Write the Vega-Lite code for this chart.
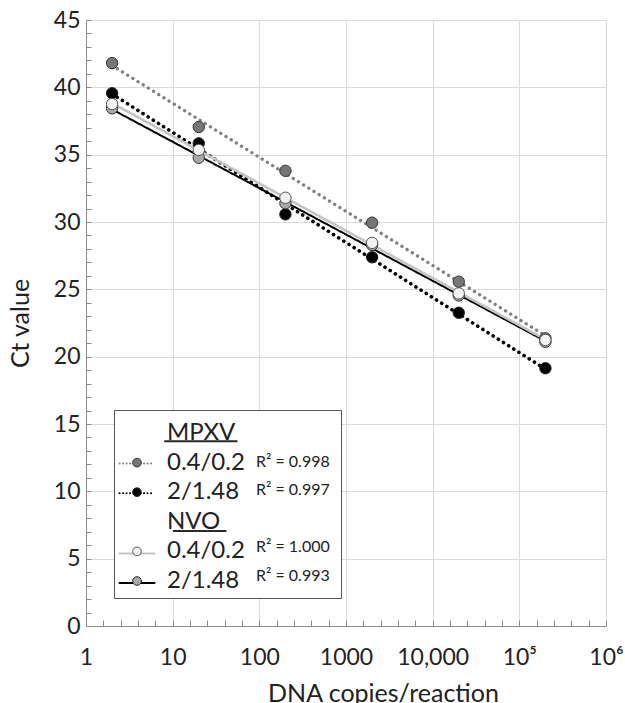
{
  "$schema": "https://vega.github.io/schema/vega-lite/v6.json",
  "width": 520,
  "height": 606,
  "autosize": {"type": "none"},
  "padding": {"left": 86, "top": 20, "right": 19, "bottom": 77},
  "config": {
    "font": "Lato",
    "view": {"stroke": null},
    "axis": {
      "domainColor": "#8c8c8c",
      "tickColor": "#8c8c8c",
      "gridColor": "#dadada",
      "labelColor": "#222222",
      "titleColor": "#222222",
      "labelFont": "Lato",
      "titleFont": "Lato",
      "labelFontSize": 23,
      "titleFontSize": 25,
      "titleFontWeight": "normal"
    }
  },
  "data": {
    "values": [
      {"series": "MPXV 0.4/0.2", "r2": "0.998", "copies": 2, "ct": 41.8},
      {"series": "MPXV 0.4/0.2", "r2": "0.998", "copies": 20, "ct": 37.05},
      {"series": "MPXV 0.4/0.2", "r2": "0.998", "copies": 200, "ct": 33.8},
      {"series": "MPXV 0.4/0.2", "r2": "0.998", "copies": 2000, "ct": 29.95},
      {"series": "MPXV 0.4/0.2", "r2": "0.998", "copies": 20000, "ct": 25.57},
      {"series": "MPXV 0.4/0.2", "r2": "0.998", "copies": 200000, "ct": 21.36},
      {"series": "MPXV 2/1.48", "r2": "0.997", "copies": 2, "ct": 39.56},
      {"series": "MPXV 2/1.48", "r2": "0.997", "copies": 20, "ct": 35.84},
      {"series": "MPXV 2/1.48", "r2": "0.997", "copies": 200, "ct": 30.57},
      {"series": "MPXV 2/1.48", "r2": "0.997", "copies": 2000, "ct": 27.38},
      {"series": "MPXV 2/1.48", "r2": "0.997", "copies": 20000, "ct": 23.26},
      {"series": "MPXV 2/1.48", "r2": "0.997", "copies": 200000, "ct": 19.14},
      {"series": "NVO 2/1.48", "r2": "0.993", "copies": 2, "ct": 38.44},
      {"series": "NVO 2/1.48", "r2": "0.993", "copies": 20, "ct": 34.77},
      {"series": "NVO 2/1.48", "r2": "0.993", "copies": 200, "ct": 31.39},
      {"series": "NVO 2/1.48", "r2": "0.993", "copies": 2000, "ct": 28.3},
      {"series": "NVO 2/1.48", "r2": "0.993", "copies": 20000, "ct": 24.55},
      {"series": "NVO 2/1.48", "r2": "0.993", "copies": 200000, "ct": 21.1},
      {"series": "NVO 0.4/0.2", "r2": "1.000", "copies": 2, "ct": 38.76},
      {"series": "NVO 0.4/0.2", "r2": "1.000", "copies": 20, "ct": 35.35},
      {"series": "NVO 0.4/0.2", "r2": "1.000", "copies": 200, "ct": 31.8},
      {"series": "NVO 0.4/0.2", "r2": "1.000", "copies": 2000, "ct": 28.45},
      {"series": "NVO 0.4/0.2", "r2": "1.000", "copies": 20000, "ct": 24.7},
      {"series": "NVO 0.4/0.2", "r2": "1.000", "copies": 200000, "ct": 21.24}
    ]
  },
  "encoding": {
    "x": {
      "field": "copies",
      "type": "quantitative",
      "scale": {"type": "log", "domain": [1, 1000000], "nice": false},
      "axis": {
        "title": "DNA copies/reaction",
        "values": [1, 1.585, 2.512, 3.981, 6.31, 10, 15.85, 25.12, 39.81, 63.1, 100, 158.5, 251.2, 398.1, 631, 1000, 1585, 2512, 3981, 6310, 10000, 15849, 25119, 39811, 63096, 100000, 158489, 251189, 398107, 630957, 1000000],
        "labelExpr": "datum.value == 1 ? '1' : datum.value == 10 ? '10' : datum.value == 100 ? '100' : datum.value == 1000 ? '1000' : datum.value == 10000 ? '10,000' : datum.value == 100000 ? '10⁵' : datum.value == 1000000 ? '10⁶' : ''",
        "labelOverlap": false,
        "labelFlush": false,
        "labelBound": false,
        "tickSize": -6,
        "labelPadding": 37,
        "labelBaseline": "middle",
        "gridOpacity": {"condition": {"test": "indexof([1,10,100,1000,10000,100000,1000000], datum.value) >= 0", "value": 1}, "value": 0},
        "titleX": 297,
        "titleY": 75,
        "titleBaseline": "alphabetic",
        "titleAlign": "center"
      }
    },
    "y": {
      "field": "ct",
      "type": "quantitative",
      "scale": {"domain": [0, 45], "nice": false, "zero": false},
      "axis": {
        "title": "Ct value",
        "values": [0,1,2,3,4,5,6,7,8,9,10,11,12,13,14,15,16,17,18,19,20,21,22,23,24,25,26,27,28,29,30,31,32,33,34,35,36,37,38,39,40,41,42,43,44,45],
        "labelExpr": "datum.value % 5 == 0 ? '' + datum.value : ''",
        "tickSize": -5,
        "labelPadding": 11,
        "gridOpacity": {"condition": {"test": "datum.value % 5 == 0", "value": 1}, "value": 0},
        "titlePadding": 20
      }
    }
  },
  "layer": [
    {
      "transform": [{"regression": "ct", "on": "copies", "method": "log", "groupby": ["series"]}],
      "mark": {"type": "line", "strokeCap": "round"},
      "encoding": {
        "stroke": {
          "field": "series",
          "type": "nominal",
          "scale": {
            "domain": ["MPXV", "MPXV 0.4/0.2", "MPXV 2/1.48", "NVO", "NVO 0.4/0.2", "NVO 2/1.48"],
            "range": ["#2a2a2a", "#808080", "#000000", "#2a2a2a", "#c4c4c4", "#000000"]
          },
          "legend": {
            "orient": "none",
            "legendX": 28,
            "legendY": 390,
            "title": null,
            "padding": 11,
            "rowPadding": 5.6,
            "symbolType": "M-3,0H3",
            "symbolSize": 136,
            "symbolStrokeWidth": 2,
            "symbolOffset": 0,
            "labelFontSize": 24,
            "labelOffset": 18,
            "labelColor": "transparent",
            "labelExpr": "'\u00a0'",
            "zindex": 2,
            "encode": {
              "symbols": {
                "update": {
                  "strokeDash": {"signal": "indexof(datum.value, 'MPXV ') == 0 ? [0.1, 3.4] : [1, 0]"},
                  "strokeCap": {"value": "round"},
                  "shape": {"signal": "datum.value == 'MPXV' ? 'M4.8,1.4H17.1' : datum.value == 'NVO' ? 'M6.3,1.4H15.2' : 'M-3,0H3'"}
                }
              }
            }
          }
        },
        "strokeDash": {
          "condition": {"test": "indexof(datum.series, 'MPXV') == 0", "value": [0.1, 6]},
          "value": [1, 0]
        },
        "strokeWidth": {
          "condition": [
            {"test": "datum.series == 'MPXV 0.4/0.2'", "value": 3.3},
            {"test": "datum.series == 'MPXV 2/1.48'", "value": 3.6},
            {"test": "datum.series == 'NVO 0.4/0.2'", "value": 2.6}
          ],
          "value": 2
        }
      }
    },
    {
      "mark": {"type": "point", "filled": true, "opacity": 1, "size": 130, "strokeWidth": 1},
      "encoding": {
        "fill": {
          "field": "series",
          "type": "nominal",
          "scale": {
            "domain": ["MPXV", "MPXV 0.4/0.2", "MPXV 2/1.48", "NVO", "NVO 0.4/0.2", "NVO 2/1.48"],
            "range": ["transparent", "#767676", "#000000", "transparent", "#f2f2f2", "#a8a8a8"]
          },
          "legend": {
            "orient": "none",
            "legendX": 28,
            "legendY": 390,
            "title": null,
            "padding": 11,
            "rowPadding": 5.6,
            "symbolType": "circle",
            "symbolSize": 75,
            "symbolStrokeWidth": 1,
            "symbolOffset": 0,
            "labelFontSize": 24,
            "labelOffset": 18,
            "labelColor": "#222222",
            "labelExpr": "datum.value == 'MPXV' ? 'MPXV' : datum.value == 'NVO' ? '\u2005NVO' : split(datum.value, ' ')[1]",
            "zindex": 3
          }
        },
        "stroke": {
          "field": "series",
          "type": "nominal",
          "scale": {
            "domain": ["MPXV", "MPXV 0.4/0.2", "MPXV 2/1.48", "NVO", "NVO 0.4/0.2", "NVO 2/1.48"],
            "range": ["transparent", "#333333", "#222222", "transparent", "#555555", "#333333"]
          },
          "legend": {
            "orient": "none",
            "legendX": 28,
            "legendY": 390,
            "title": null,
            "padding": 11,
            "rowPadding": 5.6,
            "symbolType": "circle",
            "symbolSize": 75,
            "symbolStrokeWidth": 1,
            "symbolOffset": 0,
            "labelFontSize": 24,
            "labelOffset": 18,
            "labelColor": "#222222",
            "labelExpr": "datum.value == 'MPXV' ? 'MPXV' : datum.value == 'NVO' ? '\u2005NVO' : split(datum.value, ' ')[1]",
            "zindex": 3
          }
        },
        "shape": {
          "field": "r2",
          "type": "nominal",
          "scale": {
            "domain": ["h1", "0.998", "0.997", "h2", "1.000", "0.993"],
            "range": ["circle", "circle", "circle", "circle", "circle", "circle"]
          },
          "legend": {
            "orient": "none",
            "legendX": 28,
            "legendY": 390,
            "title": null,
            "padding": 11,
            "rowPadding": 5.6,
            "symbolSize": 484,
            "symbolStrokeWidth": 2,
            "symbolOffset": 0,
            "symbolOpacity": 0,
            "labelFontSize": 16,
            "labelOffset": 107,
            "labelColor": "#222222",
            "labelExpr": "length(datum.value) < 3 ? '' : 'R² = ' + datum.value + '\u00a0\u00a0\u00a0\u00a0'",
            "fillColor": "white",
            "strokeColor": "#555555",
            "zindex": 1
          }
        }
      }
    }
  ],
  "resolve": {
    "scale": {"stroke": "independent", "fill": "independent", "shape": "independent"},
    "legend": {"stroke": "independent", "fill": "independent", "shape": "independent"}
  }
}
